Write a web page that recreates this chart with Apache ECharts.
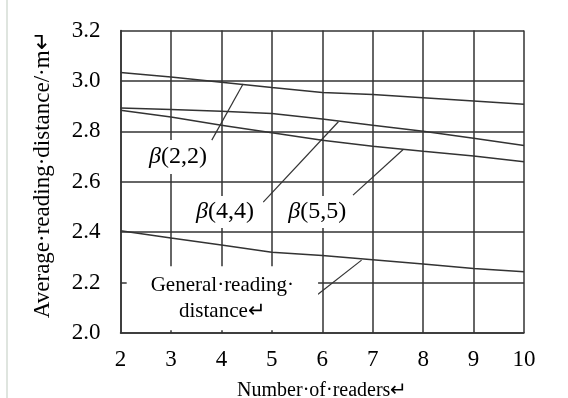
<!DOCTYPE html>
<html>
<head>
<meta charset="utf-8">
<script src="https://cdn.jsdelivr.net/npm/echarts@6/dist/echarts.min.js"></script>
<style>html,body{margin:0;padding:0;background:#fff;}#c{width:568px;height:398px;}</style>
</head>
<body>
<div id="c"></div>
<script>
const readers = [2, 3, 4, 5, 6, 7, 8, 9, 10];
const beta22 = [3.033, 3.016, 2.995, 2.974, 2.954, 2.946, 2.933, 2.920, 2.907];
const beta44 = [2.893, 2.887, 2.880, 2.871, 2.849, 2.824, 2.800, 2.773, 2.744];
const beta55 = [2.884, 2.857, 2.824, 2.794, 2.765, 2.741, 2.721, 2.702, 2.679];
const general = [2.406, 2.377, 2.349, 2.320, 2.307, 2.291, 2.274, 2.256, 2.243];
const yTicks = [2.0, 2.2, 2.4, 2.6, 2.8, 3.0, 3.2];

const labelTexts = ['{b|β}(2,2)', '{b|β}(4,4)', '{b|β}(5,5)', 'General·reading·\ndistance↵'];
const labelAnchors = [[3.14, 2.698], [4.07, 2.480], [5.90, 2.480], [4.02, 2.138]];
const leaders = [
  [[3.81, 2.765], [4.43, 2.988]],
  [[4.83, 2.519], [6.32, 2.838]],
  [[6.61, 2.547], [7.61, 2.729]],
  [[5.89, 2.150], [6.78, 2.289]]
];

const font = '"Liberation Serif", "Times New Roman", serif';
const ink = '#333';
const txt = '#000';
const pair = (xs, ys) => xs.map((x, i) => [x, ys[i]]);

const dataSeries = [beta22, beta44, beta55, general].map(ys => ({
  type: 'line', data: pair(readers, ys), symbol: 'none', z: 3,
  lineStyle: { color: ink, width: 1.5 }, silent: true
}));
const leaderSeries = leaders.map(seg => ({
  type: 'line', data: seg, symbol: 'none', z: 4,
  lineStyle: { color: ink, width: 1.2 }, silent: true
}));
const pads = [[4, 3, 4, 3], [3, 3, 3, 3], [3, 3, 3, 3], [6, 24, 6, 24]];
const labelSeries = {
  type: 'scatter', symbolSize: 0, z: 5, silent: true,
  itemStyle: { opacity: 1 },
  data: labelAnchors.map((p, i) => ({
    value: p,
    label: {
      show: true, position: 'inside', formatter: labelTexts[i], opacity: 1,
      fontFamily: font, fontSize: i === 3 ? 21 : 24, color: txt,
      lineHeight: 26,
      backgroundColor: '#fff', padding: pads[i],
      rich: { b: { fontFamily: font, fontStyle: 'italic', fontSize: 24, color: txt } }
    }
  }))
};

const chart = echarts.init(document.getElementById('c'));
chart.setOption({
  animation: false,
  backgroundColor: '#fff',
  grid: { left: 120.5, right: 44, top: 30.5, bottom: 65, outerBoundsMode: 'none', containLabel: false },
  xAxis: {
    type: 'value', min: 2, max: 10, interval: 1,
    name: 'Number·of·readers↵', nameLocation: 'middle', nameGap: 48,
    nameTextStyle: { fontFamily: font, fontSize: 20, color: txt },
    axisLine: { show: true, lineStyle: { color: ink, width: 1.5 } },
    axisTick: { show: false },
    axisLabel: { fontFamily: font, fontSize: 23, color: txt, margin: 15 },
    splitLine: { show: true, lineStyle: { color: ink, width: 1.5 } }
  },
  yAxis: {
    type: 'value', min: yTicks[0], max: yTicks[yTicks.length - 1], interval: 0.2,
    name: 'Average·reading·distance/·m↵', nameLocation: 'middle', nameGap: 66,
    nameTextStyle: { fontFamily: font, fontSize: 23, color: txt, padding: [0, 0, 0, 14] },
    axisLine: { show: true, lineStyle: { color: ink, width: 1.5 } },
    axisTick: { show: false },
    axisLabel: { fontFamily: font, fontSize: 23, color: txt, margin: 20, formatter: v => v.toFixed(1) },
    splitLine: { show: true, lineStyle: { color: ink, width: 1.5 } }
  },
  graphic: [{
    type: 'line', shape: { x1: 7, y1: 0, x2: 7, y2: 398 },
    style: { stroke: '#d5ddd5', lineWidth: 1.5 }, silent: true
  }],
  series: [...dataSeries, ...leaderSeries, labelSeries]
});
</script>
</body>
</html>
